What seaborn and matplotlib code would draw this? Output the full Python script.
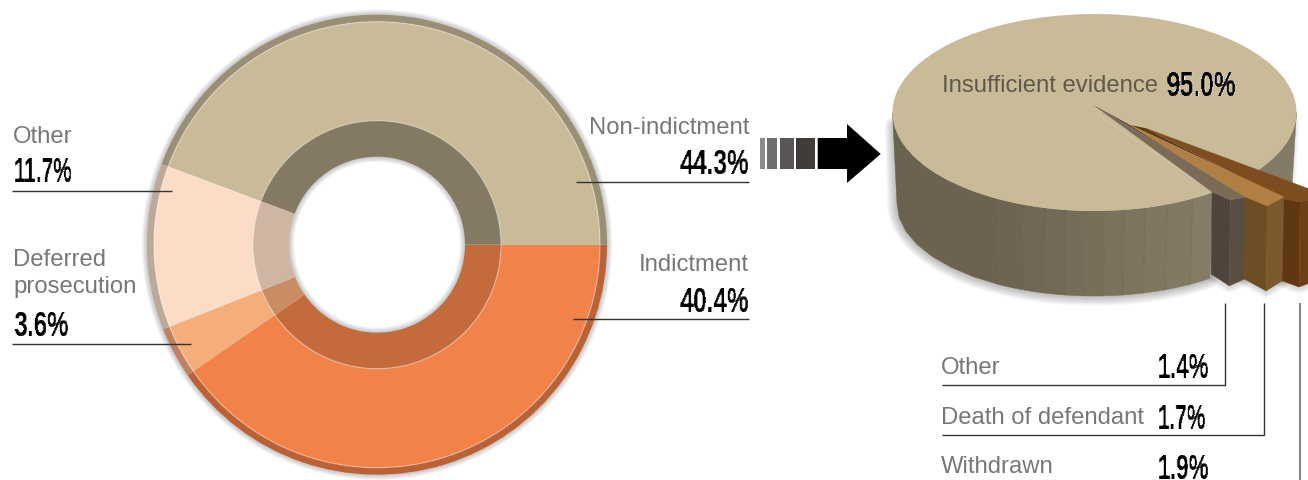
import numpy as np
import matplotlib
matplotlib.use("Agg")
import matplotlib.pyplot as plt
from matplotlib.patches import Polygon, Circle, Rectangle
from matplotlib.transforms import Affine2D
import seaborn as sns

# ---------- data ----------
outcome_labels = ["Non-indictment", "Other", "Deferred prosecution", "Indictment"]
outcome_values = [44.3, 11.7, 3.6, 40.4]
reason_labels = ["Insufficient evidence", "Other", "Death of defendant", "Withdrawn"]
reason_values = [95.0, 1.4, 1.7, 1.9]

# ---------- colours ----------
main_colors = sns.color_palette(["#c9bb98", "#fcdcc6", "#f5ad79", "#f0824a"])
inner_colors = sns.color_palette(["#847a64", "#cfb6a3", "#cc8c63", "#c56a3a"])
rim_colors = sns.color_palette(["#9a8f75", "#bda998", "#bd8361", "#b96238"])
GREY = "#777777"
LINE = "#333333"

W, H = 1308, 481
sns.set_theme(style="white")
SANS = ["Liberation Sans", "DejaVu Sans"]
plt.rcParams["font.family"] = SANS

fig = plt.figure(figsize=(W / 100, H / 100), dpi=100)
ax = fig.add_axes([0, 0, 1, 1])


def Y(py):
    return H - py


def soft_outline(patch_factory, widths, alpha, zorder=1):
    for lw in widths:
        p = patch_factory()
        p.set(facecolor="none", edgecolor="black", alpha=alpha, linewidth=lw,
              joinstyle="round", zorder=zorder)
        ax.add_patch(p)


# ---------- donut ----------
CX, CY = 377, 245.7
R_RIM, R_MAIN, R_RING, R_HOLE = 230, 223, 124, 88
pie_kw = dict(startangle=0, counterclock=True, center=(CX, Y(CY)), frame=True)
soft_outline(lambda: Circle((CX, Y(CY)), R_RIM), np.arange(1.5, 9, 1.5), 0.045)
soft_outline(lambda: Circle((CX, Y(CY)), R_HOLE), np.arange(1.5, 9, 1.5), 0.045)
ax.pie(outcome_values, radius=R_RIM, colors=rim_colors, wedgeprops=dict(width=R_RIM - R_MAIN, linewidth=0), **pie_kw)
ax.pie(outcome_values, radius=R_MAIN, colors=main_colors, wedgeprops=dict(width=R_MAIN - R_RING, linewidth=0), **pie_kw)
ax.pie(outcome_values, radius=R_RING, colors=inner_colors, wedgeprops=dict(width=R_RING - R_HOLE, linewidth=0), **pie_kw)
for r in (R_MAIN, R_RING):
    ax.add_patch(Circle((CX, Y(CY)), r, fc="none", ec="white", lw=1.0, alpha=0.3, zorder=3))

# ---------- 3D pie ----------
TX, TY, TA, TB = 1094.5, 113.5, 202.0, 98.5   # top ellipse
BX, BY, BA, BB = 1094.0, 205.0, 197.0, 92.0   # bottom ellipse
START = -36.0


def top_pt(deg):
    t = np.radians(deg)
    return TX + TA * np.cos(t), Y(TY - TB * np.sin(t))


def bot_pt(deg):
    t = np.radians(deg)
    return BX + BA * np.cos(t), Y(BY - BB * np.sin(t))


# silhouette shadow
arc = np.arange(-54, -181, -3.0)
sil = [(1213, Y(250))] + [bot_pt(a) for a in arc] + [top_pt(-172)]
soft_outline(lambda: Polygon(sil, closed=True), np.arange(2, 16, 2), 0.04, zorder=1)

back = np.arange(-6, -41, -2.0)
soft_outline(lambda: Polygon([top_pt(a) for a in back] + [bot_pt(a) for a in back[::-1]], closed=True),
             np.arange(2, 8, 2), 0.03, zorder=1)


def side_quad(a0, a1, color, z=2):
    angs = np.linspace(a0, a1, 8)
    pts = [top_pt(a) for a in angs] + [bot_pt(a) for a in angs[::-1]]
    ax.add_patch(Polygon(pts, closed=True, fc=color, ec=color, lw=0.3, zorder=z))


# far-right back wall
side_quad(-40, 0, "#837b65")
# front wall: dark plain part and gently lightening facets
side_quad(-180, -119, "#6b6350")
facet_edges = [-119, -110.7, -104.2, -98.4, -92.5, -87.2, -81.6, -75.5, -68.9, -60.9, -54]
facet_cols = sns.blend_palette(["#6d6552", "#857c66"], len(facet_edges) - 1)
for a0, a1, c in zip(facet_edges[:-1], facet_edges[1:], facet_cols):
    side_quad(a0, a1, c)
for a in facet_edges[:-1]:
    ax.plot(*zip(top_pt(a), bot_pt(a)), color="#5f5847", lw=0.5, alpha=0.5, zorder=2.5)

wedges, _ = ax.pie(reason_values, radius=1, center=(0, 0), startangle=START, counterclock=True,
                   colors=["#c9bb98"] * 4, frame=True, wedgeprops=dict(linewidth=0, zorder=3))
ell = Affine2D().scale(TA, TB).translate(TX, Y(TY)) + ax.transData
wedges[0].set_transform(ell)
for w in wedges[1:]:
    w.set_visible(False)
# tan sliver between the wedge edge and the notch needle
ax.add_patch(Polygon([(1095, Y(107)), top_pt(-54), (TX, Y(TY))], closed=True, fc="#c9bb98", ec="none", zorder=3))

# pulled-out slices: angular width comes from the value
slice_style = {
    "Other": dict(apex=(1095, 107), t0=-56.4, spread=1.07, rl=1.048, f=.28, rf=1.165, rr=1.19,
                  depth=(82, 86, 82), cols=("#7a6b57", "#50443a", "#5a4e42")),
    "Withdrawn": dict(apex=(1145, 129), t0=-46.5, spread=1.35, rl=.99, f=.23, rf=1.074, rr=1.13,
                      depth=(82, 85, 82), cols=("#7d4d20", "#5f3710", "#6b4016")),
    "Death of defendant": dict(apex=(1130, 126), t0=-52.0, spread=1.34, rl=.926, f=.19, rf=1.066, rr=1.056,
                               depth=(82, 85, 84), cols=("#b07f44", "#6d4d24", "#7a5a2e")),
}
vals = dict(zip(reason_labels[1:], reason_values[1:]))
to_xy = lambda pts: [(x, Y(y)) for x, y in pts]
corners = {}
for name, s in slice_style.items():
    span = vals[name] * 3.6 * s["spread"]
    ax_, ay_ = s["apex"]

    def corner(deg, r):
        t = np.radians(deg)
        return ax_ + r * TA * np.cos(t), ay_ - r * TB * np.sin(t)

    L = corner(s["t0"], s["rl"])
    F = corner(s["t0"] + s["f"] * span, s["rf"])
    R = corner(s["t0"] + span, s["rr"])
    corners[name] = (L, R)
    dl, df, dr = s["depth"]
    bL, bF, bR = (L[0] - 1, L[1] + dl), (F[0] - 1, F[1] + df), (R[0] - 2, R[1] + dr)
    soft_outline(lambda: Polygon(to_xy([L, bL, bF, bR, R]), closed=True), np.arange(2, 12, 2), 0.035, zorder=1.5)
    ax.add_patch(Polygon(to_xy([L, F, bF, bL]), closed=True, fc=s["cols"][1], ec=s["cols"][1], lw=.3, zorder=4))
    ax.add_patch(Polygon(to_xy([F, R, bR, bF]), closed=True, fc=s["cols"][2], ec=s["cols"][2], lw=.3, zorder=4))
    ax.add_patch(Polygon(to_xy([(ax_, ay_), L, F, R]), closed=True, fc=s["cols"][0], ec=s["cols"][0], lw=.3, zorder=5))

# dark slivers between the pulled-out slices
o, d, w_ = (slice_style[k]["apex"] for k in ("Other", "Death of defendant", "Withdrawn"))
ax.add_patch(Polygon(to_xy([o, corners["Other"][1], corners["Death of defendant"][0], d]), closed=True,
                     fc="#5a4630", ec="none", zorder=4.5))
ax.add_patch(Polygon(to_xy([d, corners["Death of defendant"][1], corners["Withdrawn"][0], w_]), closed=True,
                     fc="#5f3a18", ec="none", zorder=4.5))

# ---------- arrow ----------
for x0, x1, c in [(760, 765.3, "#8a8a8a"), (766.7, 777.3, "#6e6e6e"), (780, 794, "#585656"), (796, 815, "#403c3a")]:
    ax.add_patch(Rectangle((x0, Y(170)), x1 - x0, 31, fc=c, ec="none", zorder=6))
ax.add_patch(Polygon([(817.7, Y(139)), (847, Y(139)), (847, Y(125)), (880.7, Y(155)),
                      (847, Y(184)), (847, Y(170)), (817.7, Y(170))], closed=True, fc="black", ec="none", zorder=6))


# ---------- text ----------
def label(x, y, s, ha="left", color=GREY):
    ax.text(x, Y(y), s, ha=ha, va="baseline", fontsize=17.2, color=color, family=SANS, zorder=8)


def condense(width_px, right=False):
    """agg filter: squeeze a drawn text horizontally to a condensed display face, thickening stems."""
    def _f(img, dpi):
        h, w = img.shape[:2]
        new_w = max(1, int(round(min(width_px, w))))
        pos = (np.arange(new_w) + 0.5) * w / new_w - 0.5
        out = np.empty((h, new_w, img.shape[2]), dtype=float)
        for c in range(img.shape[2]):
            for row in range(h):
                out[row, :, c] = np.interp(pos, np.arange(w), img[row, :, c])
        heavy = out.copy()
        heavy[:, 1:, :] = np.maximum(out[:, 1:, :], 0.8 * out[:, :-1, :])
        return heavy, (w - new_w if right else 0), 0
    return _f


def number(x, y, v, width, ha="left"):
    t = ax.text(x, Y(y), f"{v:.1f}%", ha=ha, va="baseline", fontsize=25, fontweight="bold",
                color="black", family=SANS, zorder=8)
    t.set_agg_filter(condense(width, right=(ha == "right")))


def rule(xs, ys, color=LINE, lw=1.0):
    ax.plot(xs, [Y(v) for v in ys], color=color, lw=lw, solid_capstyle="butt", zorder=7)


label(13, 143, outcome_labels[1])
number(13, 182, outcome_values[1], 56)
rule([12, 172], [192, 192])

label(13, 266, "Deferred")
label(13, 292.5, "prosecution")
number(13, 336, outcome_values[2], 54)
rule([12, 191], [345, 345])

label(749, 133.5, outcome_labels[0], ha="right")
number(749, 174, outcome_values[0], 68, ha="right")
rule([576, 749], [183, 183])

label(749, 271, outcome_labels[3], ha="right")
number(749, 312, outcome_values[3], 68, ha="right")
rule([573, 749], [320, 320])

label(942, 92.5, reason_labels[0], color="#5e594b")
number(1166, 96, reason_values[0], 68)

label(941, 374, reason_labels[1])
number(1157, 378, reason_values[1], 49)
rule([942, 1224.5, 1224.5], [385.5, 385.5, 304])

label(941, 424, reason_labels[2])
number(1157, 429, reason_values[2], 46)
rule([942, 1264, 1264], [436, 436, 304])

label(941, 473, reason_labels[3])
number(1157, 479, reason_values[3], 49)
rule([1300, 1300], [304, 481], color="#808080", lw=1.4)

ax.set_xlim(0, W)
ax.set_ylim(0, H)
ax.set_aspect("equal")
ax.axis("off")
fig.savefig("out.png", dpi=100, facecolor="white")
